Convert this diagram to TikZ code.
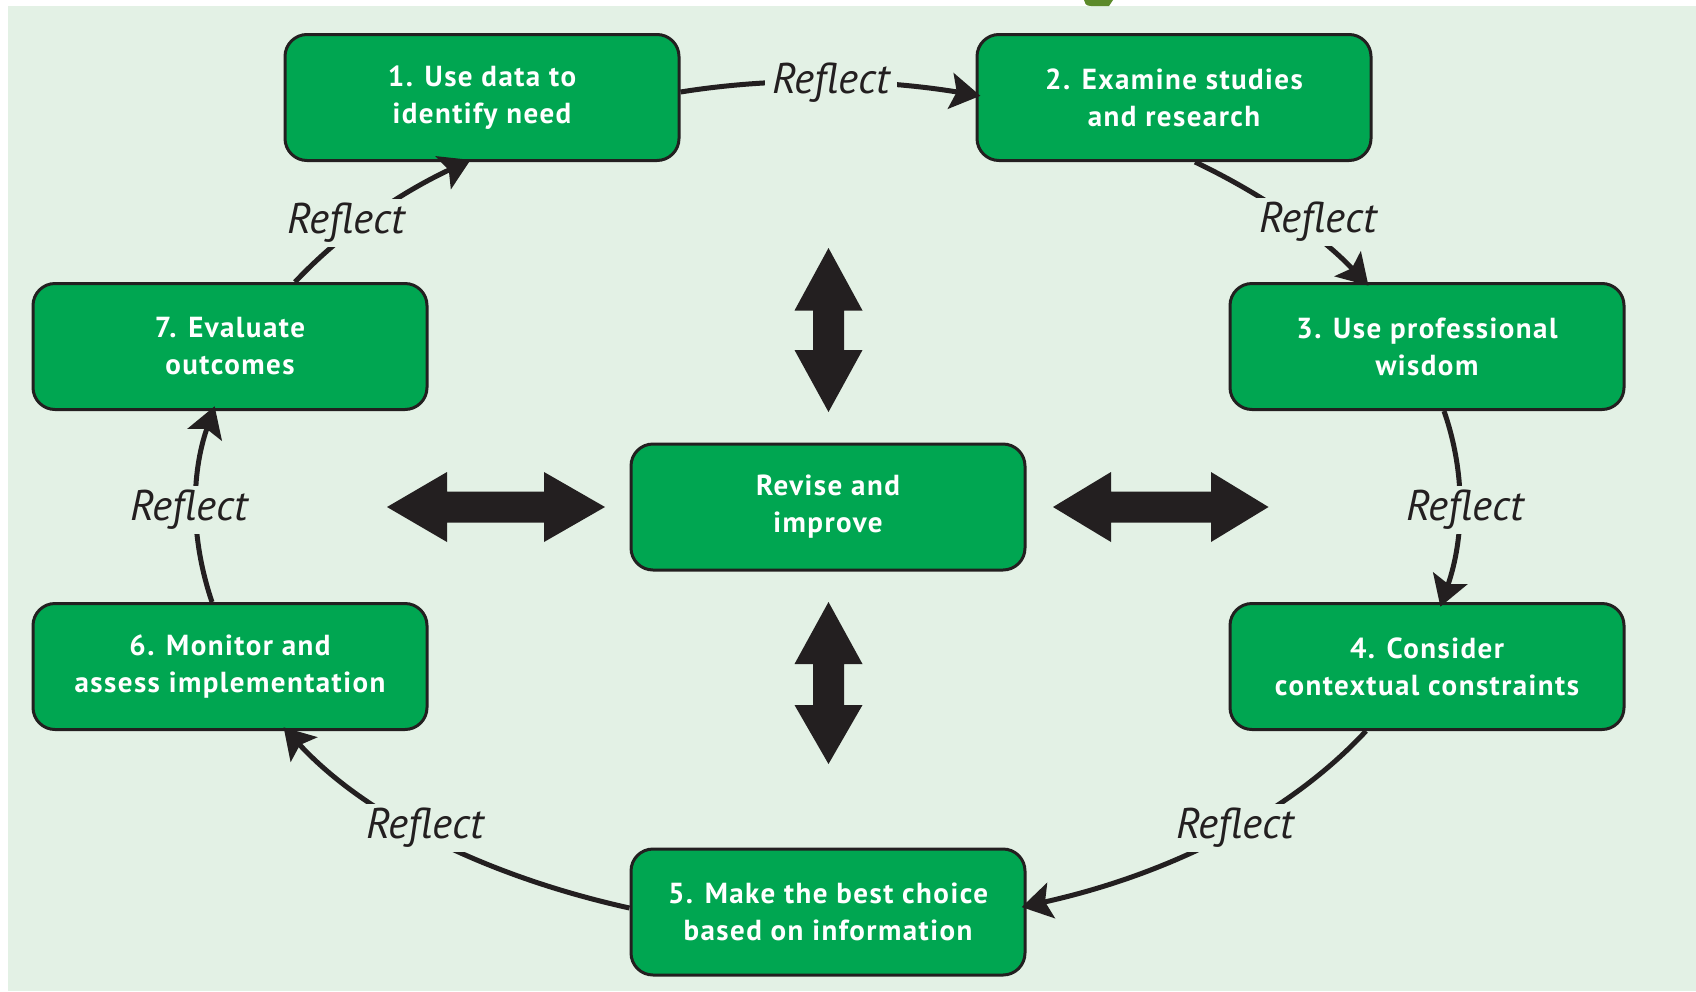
\documentclass[tikz,border=0pt]{standalone}
\usepackage{fontspec}
\setmainfont{PT Sans}
\newfontfamily\boxfont[LetterSpace=5]{PT Sans}
\newfontfamily\reflfont{PT Sans}
\usetikzlibrary{arrows.meta,calc}
\definecolor{bg}{RGB}{227,241,229}
\definecolor{boxgreen}{RGB}{0,166,81}
\definecolor{ink}{RGB}{35,31,32}
\definecolor{olivemark}{RGB}{92,138,42}
\begin{document}
\begin{tikzpicture}[x=1pt,y=-1pt,
  stepbox/.style={draw=ink, line width=3pt, fill=boxgreen, rounded corners=22pt,
    minimum width=394pt, minimum height=126pt, align=center, text=white,
    font=\boxfont\bfseries\fontsize{29}{37}\selectfont, inner sep=0pt},
  link/.style={draw=ink, line width=5pt, -{Stealth[length=30pt,width=36pt,inset=6pt]}, shorten >=-5pt},
  refl/.style={fill=bg, text=ink, font=\reflfont\itshape\fontsize{43}{46}\selectfont, inner xsep=7pt, inner ysep=4pt},
  bigarrow/.style={fill=ink}]
\useasboundingbox (0,0) rectangle (1696,991);
\fill[white] (0,0) rectangle (1696,991);
\fill[bg] (8,6) rectangle (1696,991);
\fill[olivemark] (1084,0) -- (1113,0) -- (1109,6) -- (1091,6) .. controls (1086,6) and (1084,3) .. (1084,0) -- cycle;

% step boxes
\node[stepbox] (n1) at (482,97.5) {1. Use data to\\identify need};
\node[stepbox] (n2) at (1174,97.5) {2. Examine studies\\and research};
\node[stepbox] (n3) at (1427,346.5) {3. Use professional\\wisdom};
\node[stepbox] (n4) at (1427,666.5) {4. Consider\\contextual constraints};
\node[stepbox] (n5) at (828,912) {5. Make the best choice\\based on information};
\node[stepbox] (n6) at (230,666.5) {6. Monitor and\\assess implementation};
\node[stepbox] (n7) at (230,346.5) {7. Evaluate\\outcomes};
\node[stepbox] (nc) at (828,507) {Revise and\\improve};

% cycle connectors
\draw[link] ([yshift=5.5pt]n1.east) .. controls (778,76.4) and (879,79.2) .. ([yshift=2.5pt]n2.west);
\draw[link] ([xshift=21pt]n2.south) .. controls (1263.5,194.6) and (1320.5,235.3) .. ([xshift=-62pt]n3.north);
\draw[link] ([xshift=17pt]n3.south) .. controls (1466,474) and (1464,538.6) .. ([xshift=15pt]n4.north);
\draw[link] ([xshift=-61pt]n4.south) .. controls (1287.5,815.7) and (1167.3,874.7) .. ([yshift=6pt]n5.east);
\draw[link] ([yshift=4pt]n5.west) .. controls (487.7,876.6) and (365.7,816.4) .. ([xshift=57pt]n6.south);
\draw[link] ([xshift=-18pt]n6.north) .. controls (190.3,538.3) and (190.9,474.2) .. ([xshift=-17pt]n7.south);
\draw[link] ([xshift=65pt]n7.north) .. controls (340,234.3) and (396.9,194.4) .. ([xshift=-16pt]n1.south);

% reflect labels
\node[refl] (r12) at (831,83) {Reflect};
\node[refl] (r23) at (1318,222) {Reflect};
\node[refl] (r34) at (1465,510) {Reflect};
\node[refl] (r45) at (1235,828) {Reflect};
\node[refl] (r56) at (425,828) {Reflect};
\node[refl] (r67) at (189,510) {Reflect};
\node[refl] (r71) at (346,223) {Reflect};

% big double arrows
\fill[bigarrow] (387,507) -- (447,472) -- (447,491.5) -- (544,491.5) -- (544,472) -- (605,507)
  -- (544,542) -- (544,522.5) -- (447,522.5) -- (447,542) -- cycle;
\fill[bigarrow] (1053,507) -- (1111,472) -- (1111,491.5) -- (1211,491.5) -- (1211,472) -- (1268.5,507)
  -- (1211,542) -- (1211,522.5) -- (1111,522.5) -- (1111,542) -- cycle;
\fill[bigarrow] (828.5,248) -- (862.5,310.5) -- (844,310.5) -- (844,350) -- (862.5,350) -- (828.5,412)
  -- (794.5,350) -- (813,350) -- (813,310.5) -- (794.5,310.5) -- cycle;
\fill[bigarrow] (828.5,602) -- (862.5,664) -- (844,664) -- (844,705) -- (862.5,705) -- (828.5,764)
  -- (794.5,705) -- (813,705) -- (813,664) -- (794.5,664) -- cycle;
\end{tikzpicture}
\end{document}
